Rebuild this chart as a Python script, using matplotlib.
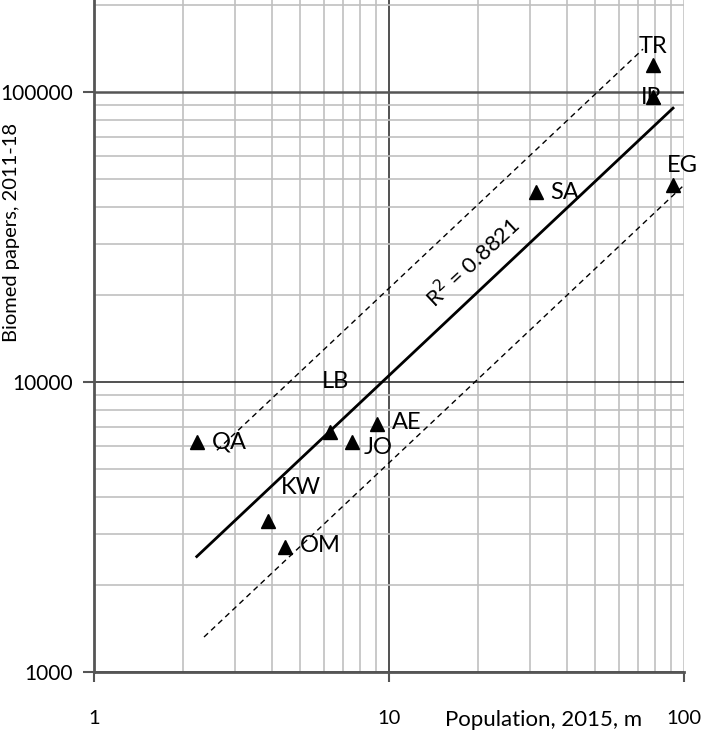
import numpy as np
import matplotlib
matplotlib.use('Agg')
import matplotlib.pyplot as plt
from matplotlib.ticker import LogLocator, NullFormatter, FixedLocator, FixedFormatter

plt.rcParams['font.family'] = ['Lato', 'DejaVu Sans']

# population 2015 (millions) and biomedical papers 2011-18
countries = ['TR', 'IR', 'EG', 'SA', 'LB', 'AE', 'JO', 'QA', 'KW', 'OM']
population = [78.5, 78.7, 91.8, 31.5, 6.3, 9.1, 7.5, 2.23, 3.89, 4.44]
papers = [124000, 96000, 47700, 45200, 6730, 7170, 6210, 6210, 3320, 2700]

# label offsets (points) and alignment for each country
label_dx = [0, -1, 7, 10, 4, 11, 8, 11, 9, 11]
label_dy = [13, 0, 14, 0, 36, 1, -4, 0, 24, 1]
label_ha = ['center', 'center', 'center', 'left', 'center', 'left', 'left', 'left', 'left', 'left']

r2_text = 'R$^2$ = 0.8821'
upper_range = [2.61, 72.6]
lower_range = [2.36, 100]

x_ticks = [1, 10, 100]
x_labels = ['1', '10', '100']
y_ticks = [1000, 10000, 100000]
y_labels = ['1000', '10000', '100000']

W, H = 702, 734
fig = plt.figure(figsize=(W / 100, H / 100), dpi=100)
ax = fig.add_axes([94 / W, 62 / H, 590 / W, 672 / H])
ax.set_xscale('log')
ax.set_yscale('log')
ax.set_xlim(1, 100)
ax.set_ylim(1000, 10 ** (3 + 672 / 290))

# grid
ax.xaxis.set_major_locator(FixedLocator(x_ticks))
ax.xaxis.set_major_formatter(FixedFormatter(x_labels))
ax.yaxis.set_major_locator(FixedLocator(y_ticks))
ax.yaxis.set_major_formatter(FixedFormatter(y_labels))
ax.xaxis.set_minor_locator(LogLocator(base=10, subs=np.arange(2, 10)))
ax.yaxis.set_minor_locator(LogLocator(base=10, subs=np.arange(2, 10)))
ax.xaxis.set_minor_formatter(NullFormatter())
ax.yaxis.set_minor_formatter(NullFormatter())
ax.grid(which='minor', color='#c0c0c0', lw=1.2)
ax.grid(which='major', color='#222222', lw=1.1)
ax.get_xgridlines()[-1].set_color('#c0c0c0')
ax.get_ygridlines()[-1].set_color('#555555')
ax.get_ygridlines()[-1].set_linewidth(1.8)
ax.set_axisbelow(True)

ax.tick_params(which='minor', length=0)
ax.tick_params(axis='x', which='major', direction='out', length=7.5, width=1.5,
               color='#555555', pad=20, labelsize=14.5)
ax.tick_params(axis='y', which='major', direction='out', length=8, width=1.5,
               color='#555555', pad=7, labelsize=15)
for s in ['top', 'right']:
    ax.spines[s].set_visible(False)
for s in ['left', 'bottom']:
    ax.spines[s].set_color('#555555')
    ax.spines[s].set_linewidth(2)

# regression in log space
lx = np.log10(population)
ly = np.log10(papers)
slope, icpt = np.polyfit(lx, ly, 1)

def trend(x, factor=1.0):
    x = np.asarray(x, dtype=float)
    return factor * 10 ** (icpt + slope * np.log10(x))

xs = np.logspace(np.log10(min(population)), np.log10(max(population)), 50)
ax.plot(xs, trend(xs), color='black', lw=2)
xu = np.logspace(np.log10(upper_range[0]), np.log10(upper_range[1]), 50)
ax.plot(xu, trend(xu, 2), color='black', lw=1, ls=(0, (4, 3)))
xl = np.logspace(np.log10(lower_range[0]), np.log10(lower_range[1]), 50)
ax.plot(xl, trend(xl, 0.5), color='black', lw=1, ls=(0, (4, 3)))

ax.plot(population, papers, ls='none', marker='^', ms=10, color='black', clip_on=False)

for c, x, y, dx, dy, ha in zip(countries, population, papers, label_dx, label_dy, label_ha):
    ax.annotate(c, (x, y), xytext=(dx, dy), textcoords='offset points',
                ha=ha, va='center', fontsize=17)

ax.text(19.2, 25900, r2_text, rotation=43, rotation_mode='anchor',
        ha='center', va='center', fontsize=16)

fig.text(544 / W, 1 - 720 / H, 'Population, 2015, m', ha='center', va='center', fontsize=16)
fig.text(12 / W, 1 - 232 / H, 'Biomed papers, 2011-18', ha='center', va='center',
         rotation=90, fontsize=14.5)

fig.savefig('out.png', dpi=100)
